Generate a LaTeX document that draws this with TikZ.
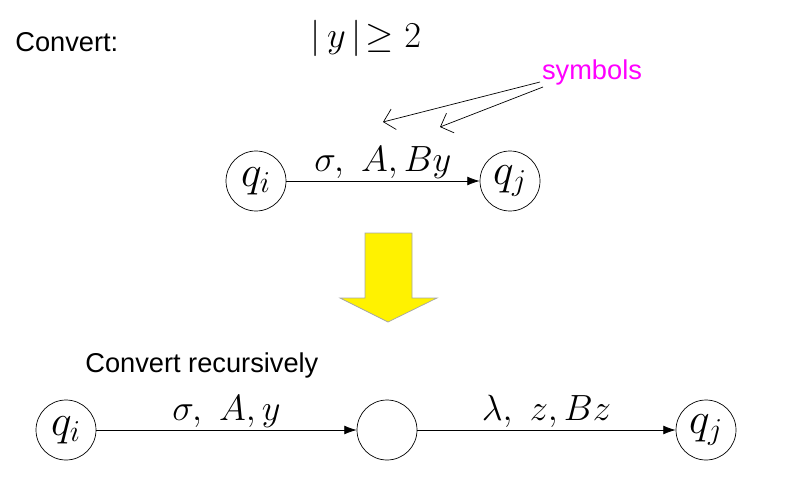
\documentclass[tikz,border=0pt]{standalone}
\usepackage{fontspec}
\setsansfont{Liberation Sans}
\usetikzlibrary{arrows.meta}
\definecolor{mag}{rgb}{1,0,1}
\begin{document}
\begin{tikzpicture}[x=0.02cm,y=-0.02cm,
  st/.style={circle,draw,minimum size=1.2cm,inner sep=0pt,font=\fontsize{23}{26}\selectfont},
  tr/.style={-{Latex[length=7pt,width=5pt]},thin},
  lab/.style={font=\fontsize{21}{24}\selectfont},
  txt/.style={font=\sffamily\fontsize{15.5}{18}\selectfont}]
\useasboundingbox (0,0) rectangle (797,490);
\node[txt,anchor=west,inner sep=0pt] (c1) at (15,42) {Convert:};
\node[lab] (cond) at (366,38) {$|\,y\,|\!\geq 2$};
\node[txt,text=mag] (sym) at (592,72) {symbols};
\coordinate (s1) at (540,82);
\coordinate (s2) at (543,87);
\coordinate (t1) at (383,122);
\coordinate (t2) at (440,127);
\draw[-{Straight Barb[length=6pt]},thin] (s1) -- (t1);
\draw[-{Straight Barb[length=6pt]},thin] (s2) -- (t2);
\node[st] (qi) at (256,181) {$q_i$};
\node[st] (qj) at (510,181) {$q_j$};
\draw[tr] (qi) -- node[lab,above=-2pt] {$\sigma,\ A, By$} (qj);
\fill[yellow,draw=gray!70] (365,233) -- (412,233) -- (412,298) -- (437,298) -- (388,322) -- (340,298) -- (365,298) -- cycle;
\node[txt,anchor=west,inner sep=0pt] (c2) at (85,365) {Convert recursively};
\node[st] (a) at (66,430) {$q_i$};
\node[st] (b) at (387,430) {};
\node[st] (c) at (706,430) {$q_j$};
\draw[tr] (a) -- node[lab,above=-2pt] {$\sigma,\ A, y$} (b);
\draw[tr] (b) -- node[lab,above=-2pt] {$\lambda,\ z, Bz$} (c);
\end{tikzpicture}
\end{document}
